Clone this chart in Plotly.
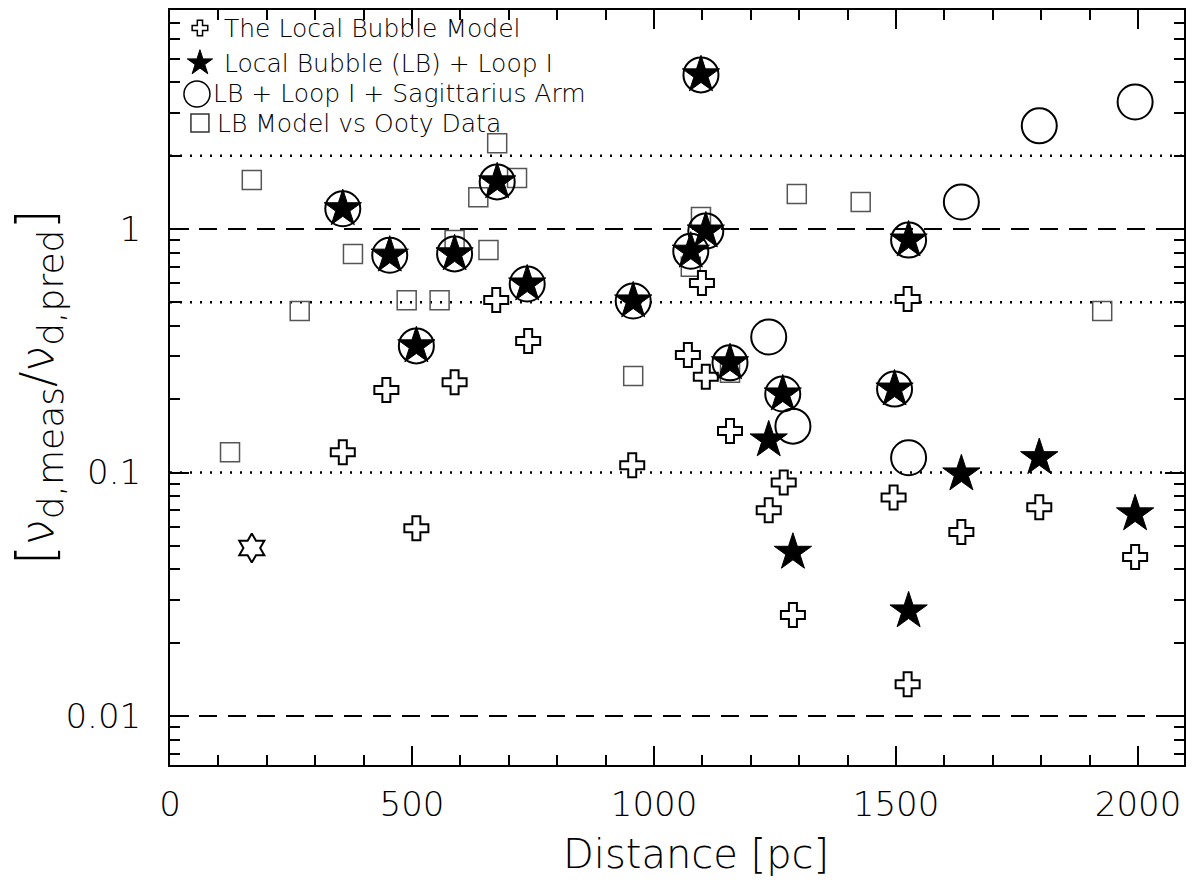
import plotly.graph_objects as go

# ---------------- data ----------------
# The Local Bubble Model (open crosses)
lb_x = [357, 447, 588, 509, 674, 740, 955, 1099, 1070, 1107, 1157, 1268, 1237, 1287, 1495, 1524, 1524, 1635, 1796, 1994]
lb_y = [0.121, 0.218, 0.235, 0.059, 0.511, 0.347, 0.107, 0.60, 0.304, 0.247, 0.148, 0.091, 0.070, 0.026, 0.079, 0.516, 0.0135, 0.057, 0.072, 0.045]

# Local Bubble (LB) + Loop I (filled stars)
loop_x = [357, 454, 509, 588, 676, 738, 957, 1076, 1097, 1107, 1157, 1237, 1266, 1287, 1497, 1526, 1526, 1635, 1796, 1994]
loop_y = [1.21, 0.78, 0.331, 0.79, 1.56, 0.594, 0.506, 0.81, 4.29, 0.98, 0.282, 0.136, 0.21, 0.047, 0.22, 0.90, 0.027, 0.0986, 0.115, 0.0676]

# LB + Loop I + Sagittarius Arm (open circles)
sag_x = [357, 454, 509, 588, 676, 738, 957, 1076, 1097, 1107, 1157, 1237, 1266, 1287, 1497, 1526, 1526, 1635, 1796, 1994]
sag_y = [1.21, 0.78, 0.331, 0.79, 1.56, 0.594, 0.506, 0.81, 4.29, 0.98, 0.282, 0.36, 0.21, 0.155, 0.22, 0.90, 0.115, 1.29, 2.65, 3.32]

# LB Model vs Ooty Data (open squares)
ooty_x = [124, 169, 268, 378, 489, 557, 588, 637, 658, 676, 717, 957, 1076, 1097, 1157, 1295, 1427, 1926]
ooty_y = [0.121, 1.59, 0.46, 0.79, 0.51, 0.51, 0.90, 1.35, 0.82, 2.25, 1.62, 0.249, 0.70, 1.12, 0.257, 1.39, 1.29, 0.46]

# special source (star of David)
special_x = [169]
special_y = [0.049]

# reference levels
dashed_levels = [1.0, 0.01]
dotted_levels = [2.0, 0.5, 0.1]

legend_labels = ["The Local Bubble Model", "Local Bubble (LB) + Loop I",
                 "LB + Loop I + Sagittarius Arm", "LB Model vs Ooty Data"]

x_tickvals = [0, 500, 1000, 1500, 2000]
x_ticktext = ["0", "500", "1000", "1500", "2000"]
y_tickvals = [0.01, 0.1, 1]
y_ticktext = ["0.01", "0.1", "1"]

X_RANGE = [0, 2095]
Y_RANGE = [-2.201, 0.899]  # log10

FONT = "DejaVu Sans"

fig = go.Figure()

# reference lines
for lv in dashed_levels:
    fig.add_trace(go.Scatter(x=X_RANGE, y=[lv, lv], mode="lines",
                             line=dict(color="black", width=2, dash="18px,11px"),
                             showlegend=False, hoverinfo="skip"))
for lv in dotted_levels:
    fig.add_trace(go.Scatter(x=X_RANGE, y=[lv, lv], mode="lines",
                             line=dict(color="black", width=2.5, dash="2px,8px"),
                             showlegend=False, hoverinfo="skip"))

fig.add_trace(go.Scatter(x=ooty_x, y=ooty_y, mode="markers", name=legend_labels[3],
                         marker=dict(symbol="square-open", size=19, color="#555555",
                                     line=dict(color="#555555", width=1.5)),
                         showlegend=False))
fig.add_trace(go.Scatter(x=lb_x, y=lb_y, mode="markers", name=legend_labels[0],
                         marker=dict(symbol="cross", size=20, color="white",
                                     line=dict(color="black", width=2)),
                         showlegend=False))
fig.add_trace(go.Scatter(x=sag_x, y=sag_y, mode="markers", name=legend_labels[2],
                         marker=dict(symbol="circle-open", size=35, color="black",
                                     line=dict(color="black", width=2)),
                         showlegend=False))
fig.add_trace(go.Scatter(x=loop_x, y=loop_y, mode="markers", name=legend_labels[1],
                         marker=dict(symbol="star", size=28, color="black",
                                     line=dict(color="black", width=1)),
                         showlegend=False))
fig.add_trace(go.Scatter(x=special_x, y=special_y, mode="markers",
                         marker=dict(symbol="hexagram-open", size=22, color="black",
                                     line=dict(color="black", width=2)),
                         showlegend=False))

# ---- manual legend on an overlay axis (0..1 in both directions) ----
leg_sym = ["cross", "star", "circle-open", "square-open"]
leg_size = [13, 19, 26, 18]
leg_fill = ["white", "black", "black", "#333333"]
leg_lw = [1.5, 1, 1.5, 1.5]
leg_row_px = [28, 63, 94, 123]
leg_mark_px = [200, 200, 197, 200]
leg_text_px = [222, 222, 211, 215]
PL, PR, PT, PB = 170, 1186, 10, 765
for i in range(4):
    fig.add_trace(go.Scatter(
        x=[(leg_mark_px[i] - PL) / (PR - PL)], y=[(PB - leg_row_px[i]) / (PB - PT)],
        xaxis="x2", yaxis="y2", mode="markers", showlegend=False, hoverinfo="skip",
        marker=dict(symbol=leg_sym[i], size=leg_size[i], color=leg_fill[i],
                    line=dict(color="black" if i < 3 else "#333333", width=leg_lw[i]))))
    fig.add_annotation(x=(leg_text_px[i] - PL) / (PR - PL), y=(PB - leg_row_px[i]) / (PB - PT),
                       xref="paper", yref="paper", xanchor="left", yanchor="middle",
                       text=legend_labels[i], showarrow=False,
                       font=dict(family=FONT, size=25, color="black", weight=200))

# axis titles
fig.add_annotation(x=(697 - PL) / (PR - PL), y=(PB - 854) / (PB - PT), xref="paper", yref="paper",
                   xanchor="center", yanchor="middle",
                   text="Distance [pc]", showarrow=False,
                   font=dict(family=FONT, size=40, color="black", weight=200))
fig.add_annotation(x=(38 - PL) / (PR - PL), y=(PB - 387) / (PB - PT), xref="paper", yref="paper",
                   xanchor="center", yanchor="middle",
                   textangle=-90,
                   text=('<span style="font-size:52px">[</span>ν<sub><span style="font-size:36px">d,meas</span></sub>'
                         '/ν<sub><span style="font-size:36px">d,pred</span></sub><span style="font-size:52px">]</span>'),
                   showarrow=False,
                   font=dict(family=FONT, size=46, color="black", weight=200))

axis_common = dict(showline=True, linecolor="black", linewidth=2, mirror="allticks",
                   ticks="inside", tickcolor="black", tickwidth=2, ticklen=19,
                   showgrid=False, zeroline=False,
                   tickfont=dict(family=FONT, size=34, color="black", weight=200))

fig.update_layout(
    width=1194, height=888,
    margin=dict(l=170, r=8, t=10, b=123),
    paper_bgcolor="white", plot_bgcolor="white",
    showlegend=False,
    xaxis=dict(range=X_RANGE, tickvals=x_tickvals, ticktext=x_ticktext,
               minor=dict(ticks="inside", dtick=100, ticklen=10, tickwidth=2, tickcolor="black"),
               ticklabelstandoff=8, **axis_common),
    yaxis=dict(type="log", range=Y_RANGE, tickvals=y_tickvals, ticktext=y_ticktext,
               minor=dict(ticks="inside", dtick="D1", ticklen=10, tickwidth=2, tickcolor="black"),
               ticklabelstandoff=20, **axis_common),
    xaxis2=dict(overlaying="x", range=[0, 1], visible=False),
    yaxis2=dict(overlaying="y", range=[0, 1], visible=False),
)

fig.write_html("out.html")
